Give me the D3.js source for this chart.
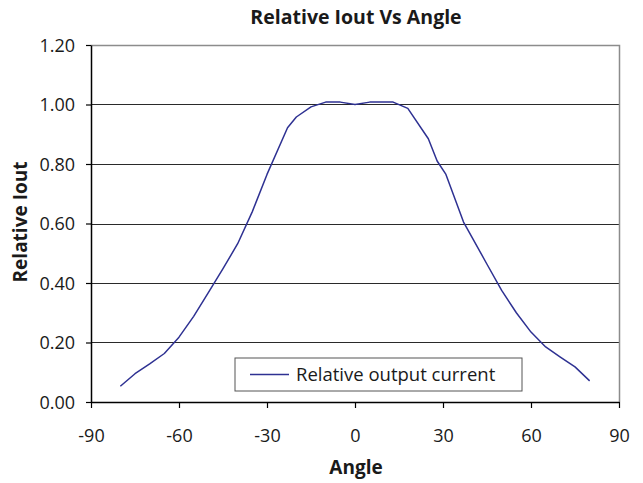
<!DOCTYPE html>
<html>
  <head>
    <meta charset="utf-8">
    <title>Relative Iout Vs Angle</title>
    <script src="https://cdnjs.cloudflare.com/ajax/libs/d3/7.8.5/d3.min.js"></script>
    <style type="text/css">
        html, body{
            padding: 0px;
            margin: 0px;
            background: #ffffff;
            font-family: "Open Sans", "Noto Sans", sans-serif;
        }
    </style>
  </head>
  <body>
    <div id="vis"></div>
    <script type="text/javascript">

        // data
        var angles = [-80, -75, -70, -65, -60, -55, -50, -45, -40, -35, -30, -23, -20, -15, -10, -5,
                      0, 5, 13, 18, 25, 28, 31, 37, 40, 45, 50, 55, 60, 65, 70, 75, 80];
        var relIout = [0.053, 0.095, 0.128, 0.163, 0.218, 0.288, 0.368, 0.448, 0.532, 0.640, 0.765, 0.922, 0.958, 0.992, 1.008, 1.008,
                       1.000, 1.008, 1.008, 0.987, 0.885, 0.810, 0.765, 0.605, 0.552, 0.463, 0.375, 0.300, 0.235, 0.185, 0.151, 0.118, 0.071];
        var xTicks = [-90, -60, -30, 0, 30, 60, 90];
        var yTicks = [0, 0.2, 0.4, 0.6, 0.8, 1.0, 1.2];
        var seriesName = "Relative output current";

        var width = 643, height = 483;
        var margin = {left: 91, right: 24, top: 45, bottom: 81};

        var svg = d3.select("#vis").append("svg")
            .attr("width", width)
            .attr("height", height);

        var x = d3.scaleLinear().domain([-90, 90]).range([margin.left, width - margin.right]);
        var y = d3.scaleLinear().domain([0, 1.2]).range([height - margin.bottom, margin.top]);

        // gridlines
        svg.append("g")
            .selectAll("line")
            .data(yTicks.slice(1, -1))
            .enter().append("line")
            .attr("x1", x(-90)).attr("x2", x(90))
            .attr("y1", function(d){ return Math.round(y(d)) + 0.5; })
            .attr("y2", function(d){ return Math.round(y(d)) + 0.5; })
            .attr("stroke", "#2a2a2a")
            .attr("stroke-width", 1);

        // plot frame (top and right are grey)
        svg.append("path")
            .attr("d", "M" + x(-90) + "," + (Math.round(y(1.2)) + 0.5) + "H" + (Math.round(x(90)) + 0.5) + "V" + y(0))
            .attr("fill", "none")
            .attr("stroke", "#8c8c8c")
            .attr("stroke-width", 1.5);

        // line
        var pts = angles.map(function(a, i){ return [a, relIout[i]]; });
        var line = d3.line()
            .x(function(d){ return x(d[0]); })
            .y(function(d){ return y(d[1]); });

        svg.append("path")
            .datum(pts)
            .attr("d", line)
            .attr("fill", "none")
            .attr("stroke", "#2e3192")
            .attr("stroke-width", 1.5)
            .attr("stroke-linejoin", "round");

        // axes (plain hyphen minus, like the original)
        var xAxis = d3.axisBottom(x).tickValues(xTicks).tickSizeInner(6).tickSizeOuter(0).tickPadding(21)
            .tickFormat(function(d){ return String(d); });
        var yAxis = d3.axisLeft(y).tickValues(yTicks).tickSizeInner(5).tickSizeOuter(0).tickPadding(11)
            .tickFormat(function(d){ return d.toFixed(2); });

        var gx = svg.append("g")
            .attr("transform", "translate(0," + y(0) + ")")
            .call(xAxis);
        var gy = svg.append("g")
            .attr("transform", "translate(" + x(-90) + ",0)")
            .call(yAxis);

        [gx, gy].forEach(function(g){
            g.select(".domain").attr("stroke", "#000").attr("stroke-width", 1.5);
            g.selectAll(".tick line").attr("stroke", "#000").attr("stroke-width", 1.2);
            g.selectAll(".tick text")
                .attr("fill", "#1a1a1a")
                .style("font-family", "'Open Sans', 'Noto Sans', sans-serif")
                .style("font-size", "18px");
        });
        gy.selectAll(".tick text").attr("dy", "0.36em");

        // legend
        var legend = svg.append("g").attr("transform", "translate(235,358)");
        legend.append("rect")
            .attr("width", 287).attr("height", 33)
            .attr("fill", "#fff")
            .attr("stroke", "#555")
            .attr("stroke-width", 1);
        legend.append("line")
            .attr("x1", 15).attr("x2", 54)
            .attr("y1", 16.5).attr("y2", 16.5)
            .attr("stroke", "#2e3192")
            .attr("stroke-width", 1.5);
        legend.append("text")
            .attr("x", 61).attr("y", 23)
            .attr("fill", "#1a1a1a")
            .style("font-size", "18.5px")
            .text(seriesName);

        // titles
        svg.append("text")
            .attr("x", 356).attr("y", 24)
            .attr("text-anchor", "middle")
            .style("font-weight", "bold")
            .style("font-size", "19.5px")
            .attr("fill", "#1a1a1a")
            .text("Relative Iout Vs Angle");

        svg.append("text")
            .attr("x", 356).attr("y", 474)
            .attr("text-anchor", "middle")
            .style("font-weight", "bold")
            .style("font-size", "19px")
            .attr("fill", "#1a1a1a")
            .text("Angle");

        svg.append("text")
            .attr("transform", "translate(27,222) rotate(-90)")
            .attr("text-anchor", "middle")
            .style("font-weight", "bold")
            .style("font-size", "19px")
            .attr("fill", "#1a1a1a")
            .text("Relative Iout");

    </script>
  </body>
</html>
